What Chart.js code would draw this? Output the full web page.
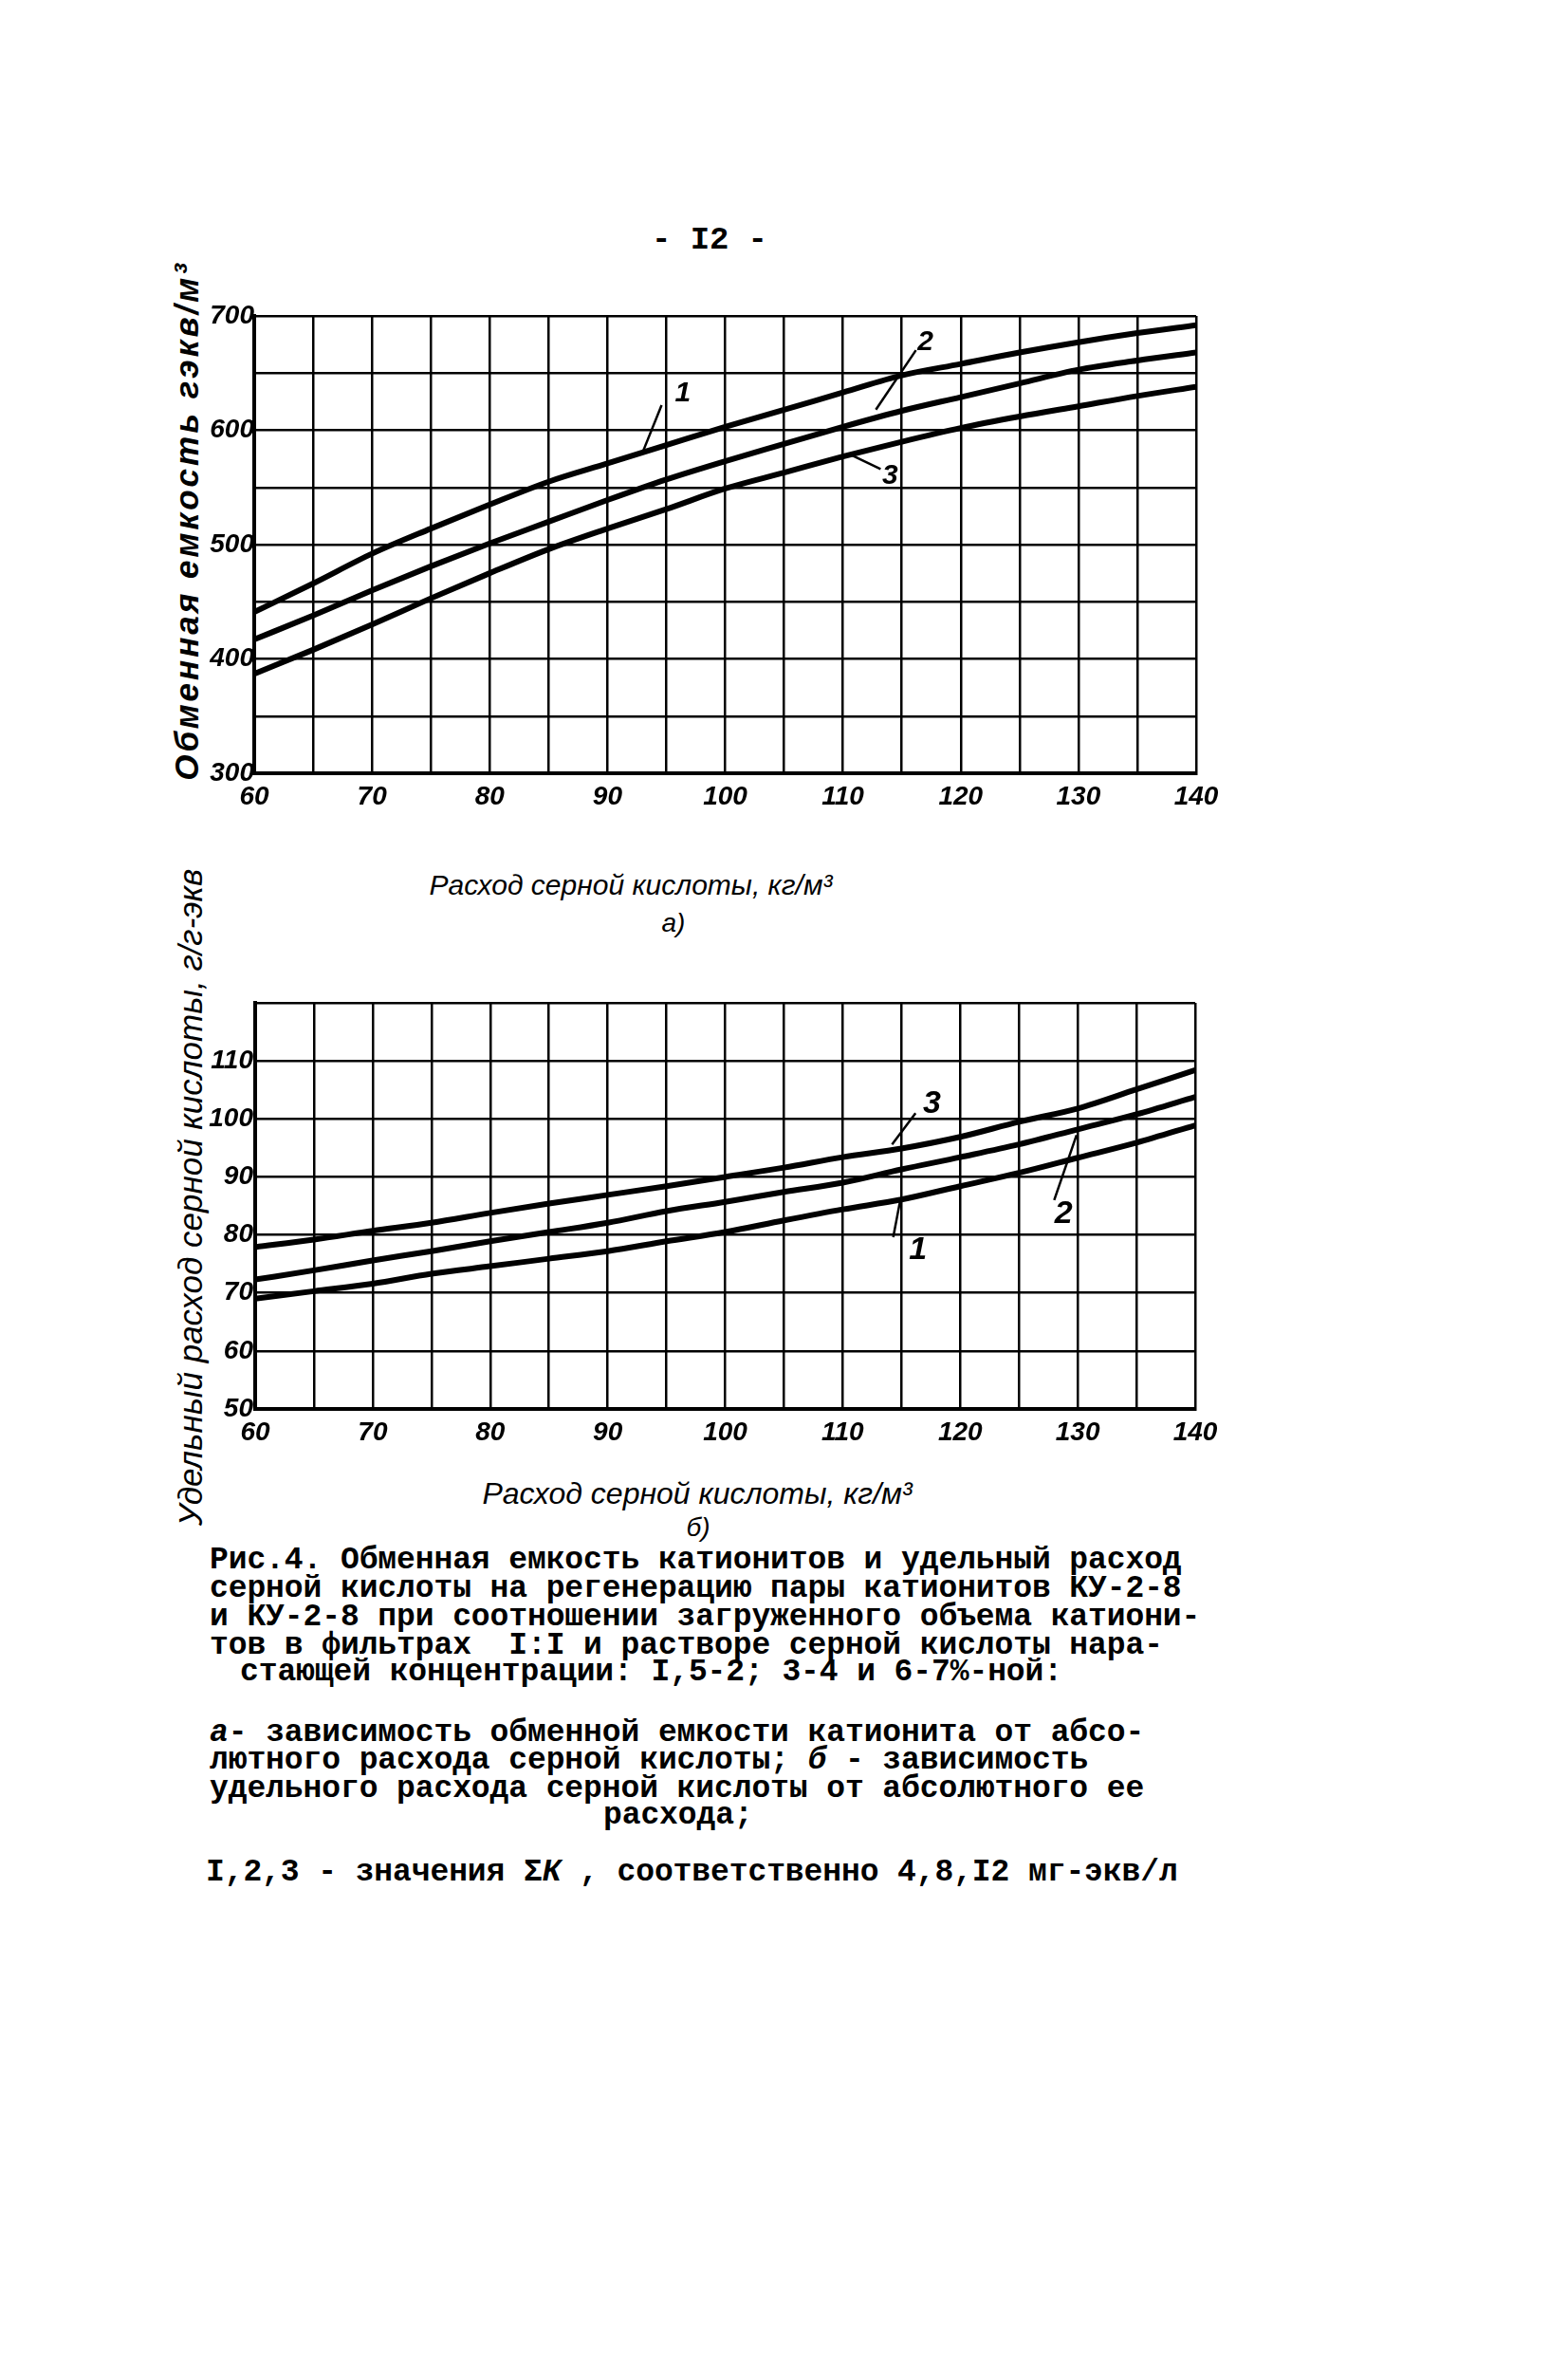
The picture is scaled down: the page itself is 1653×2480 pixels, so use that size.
<!DOCTYPE html>
<html>
<head>
<meta charset="utf-8">
<script src="https://cdn.jsdelivr.net/npm/chart.js@4.4.1/dist/chart.umd.min.js"></script>
<style>
html, body { margin: 0; padding: 0; background: #fff; }
body { width: 1653px; height: 2480px; position: relative; overflow: hidden; color: #000; }
canvas { position: absolute; }
.txt { position: absolute; white-space: pre; }
.mono { font-family: "Liberation Mono", "DejaVu Sans Mono", monospace; font-size: 33px; font-weight: bold; letter-spacing: -0.1px; line-height: 30px; }
.hand { font-family: "Liberation Sans", "DejaVu Sans", sans-serif; font-style: italic; }
.rot { transform: translate(-50%, -50%) rotate(-90deg); }
.ctr { transform: translate(-50%, -50%); }
</style>
</head>
<body>

<div class="txt mono" style="left:0;width:1496px;text-align:center;top:238px;font-size:34px;">- I2 -</div>

<div class="txt hand rot" style="left:197px;top:549px;font-size:35px;font-weight:bold;letter-spacing:3px;">Обменная емкость гэкв/м³</div>
<div class="txt hand ctr" style="left:665px;top:933px;font-size:30px;">Расход серной кислоты, кг/м³</div>
<div class="txt hand ctr" style="left:710px;top:973px;font-size:28px;">а)</div>

<div class="txt hand rot" style="left:201px;top:1262px;font-size:35px;">Удельный расход серной кислоты, г/г-экв</div>
<div class="txt hand ctr" style="left:735px;top:1574px;font-size:32px;">Расход серной кислоты, кг/м³</div>
<div class="txt hand ctr" style="left:736px;top:1610px;font-size:28px;">б)</div>

<canvas id="chartA" width="1200" height="600" style="left:150px;top:280px;"></canvas>
<canvas id="chartB" width="1200" height="560" style="left:150px;top:1000px;"></canvas>

<div class="txt mono" style="left:221px;top:1630px;">Рис.4. Обменная емкость катионитов и удельный расход</div>
<div class="txt mono" style="left:221px;top:1660px;">серной кислоты на регенерацию пары катионитов КУ-2-8</div>
<div class="txt mono" style="left:221px;top:1690px;">и КУ-2-8 при соотношении загруженного объема катиони-</div>
<div class="txt mono" style="left:221px;top:1720px;">тов в фильтрах  I:I и растворе серной кислоты нара-</div>
<div class="txt mono" style="left:253px;top:1748px;">стающей концентрации: I,5-2; 3-4 и 6-7%-ной:</div>
<div class="txt mono" style="left:221px;top:1812px;"><i>а</i>- зависимость обменной емкости катионита от абсо-</div>
<div class="txt mono" style="left:221px;top:1841px;">лютного расхода серной кислоты; <i>б</i> - зависимость</div>
<div class="txt mono" style="left:221px;top:1871px;">удельного расхода серной кислоты от абсолютного ее</div>
<div class="txt mono" style="left:636px;top:1899px;">расхода;</div>
<div class="txt mono" style="left:217px;top:1959px;">I,2,3 - значения Σ<i>К</i> , соответственно 4,8,I2 мг-экв/л</div>

<script>
// acid consumption, kg/m3
var xValues = [60, 65, 70, 75, 80, 85, 90, 95, 100, 105, 110, 115, 120, 125, 130, 135, 140]

// a) exchange capacity, g-eq/m3 (curves 1, 2, 3)
var capacity1 = [441, 466, 492, 514, 535, 555, 571, 587, 603, 618, 633, 648, 658, 668, 677, 685, 692]
var capacity2 = [417, 438, 460, 481, 501, 520, 539, 557, 573, 588, 603, 617, 629, 641, 653, 661, 668]
var capacity3 = [387, 408, 430, 453, 475, 496, 514, 531, 549, 563, 577, 590, 602, 612, 621, 630, 638]

// b) specific acid consumption, g/g-eq (curves 1, 2, 3)
var specific1 = [69.0, 70.3, 71.6, 73.3, 74.6, 75.9, 77.2, 78.9, 80.5, 82.5, 84.4, 86.1, 88.4, 90.7, 93.3, 95.9, 98.9]
var specific2 = [72.3, 73.9, 75.6, 77.2, 78.9, 80.5, 82.1, 84.1, 85.7, 87.4, 89.0, 91.3, 93.4, 95.6, 98.2, 100.8, 103.8]
var specific3 = [77.9, 79.2, 80.7, 82.1, 83.8, 85.4, 86.9, 88.4, 90.0, 91.6, 93.4, 94.9, 96.9, 99.5, 101.8, 105.1, 108.4]

var curveNames = ['1', '2', '3']

function toPoints(values) {
  return xValues.map((x, i) => ({x: x, y: values[i]}))
}

function makeDataset(name, values) {
  return {
    label: name,
    data: toPoints(values),
    borderColor: '#000',
    borderWidth: 6,
    borderCapStyle: 'round',
    pointRadius: 0,
    tension: 0.4,
    cubicInterpolationMode: 'monotone',
    fill: false,
  }
}

// hand-written curve numbers with leader lines, given in data units
var curveLabels = {
  id: 'curveLabels',
  afterDatasetsDraw(chart, args, opts) {
    const ctx = chart.ctx
    const xs = chart.scales.x
    const ys = chart.scales.y
    ctx.save()
    ctx.strokeStyle = '#000'
    ctx.fillStyle = '#000'
    ctx.lineWidth = 2.5
    ctx.font = opts.font
    ctx.textAlign = 'center'
    ctx.textBaseline = 'middle'
    opts.items.forEach((it)=>{
      ctx.beginPath()
      ctx.moveTo(xs.getPixelForValue(it.from[0]), ys.getPixelForValue(it.from[1]))
      ctx.lineTo(xs.getPixelForValue(it.to[0]), ys.getPixelForValue(it.to[1]))
      ctx.stroke()
      ctx.fillText(it.text, xs.getPixelForValue(it.at[0]), ys.getPixelForValue(it.at[1]))
    })
    ctx.restore()
  }
}

var tickFont = {family: "'Liberation Sans', 'DejaVu Sans', sans-serif", style: 'italic', weight: 'bold', size: 28}

function xScale(height) {
  return {
    type: 'linear',
    min: 60,
    max: 140,
    afterFit: (s)=>{ s.height = height },
    border: {display: true, color: '#000', width: 4},
    grid: {color: '#000', lineWidth: 2.5, drawTicks: false},
    ticks: {
      stepSize: 5,
      autoSkip: false,
      maxRotation: 0,
      padding: 8,
      color: '#000',
      font: tickFont,
      callback: (v)=> v % 10 === 0 ? v : '',
    },
  }
}

var chartA = new Chart(document.getElementById('chartA'), {
  type: 'line',
  data: {
    datasets: [
      makeDataset(curveNames[0], capacity1),
      makeDataset(curveNames[1], capacity2),
      makeDataset(curveNames[2], capacity3),
    ],
  },
  plugins: [curveLabels],
  options: {
    responsive: false,
    animation: false,
    devicePixelRatio: 1,
    layout: {padding: {top: 53, right: 89, left: 0, bottom: 0}},
    scales: {
      x: xScale(65),
      y: {
        type: 'linear',
        min: 300,
        max: 700,
        afterFit: (s)=>{ s.width = 118 },
        border: {display: true, color: '#000', width: 4},
        grid: {color: '#000', lineWidth: 2.5, drawTicks: false},
        ticks: {
          stepSize: 50,
          padding: 0,
          color: '#000',
          font: tickFont,
          callback: (v)=> v % 100 === 0 ? v : '',
        },
      },
    },
    plugins: {
      legend: {display: false},
      tooltip: {enabled: false},
      curveLabels: {
        font: "italic bold 30px 'Liberation Sans', sans-serif",
        items: [
          {text: '1', at: [96.4, 632], from: [93.0, 581], to: [94.6, 622]},
          {text: '2', at: [117.0, 677], from: [112.8, 618], to: [116.2, 670]},
          {text: '3', at: [114.0, 560], from: [110.8, 578], to: [113.2, 566]},
        ],
      },
    },
  },
})

var chartB = new Chart(document.getElementById('chartB'), {
  type: 'line',
  data: {
    datasets: [
      makeDataset(curveNames[0], specific1),
      makeDataset(curveNames[1], specific2),
      makeDataset(curveNames[2], specific3),
    ],
  },
  plugins: [curveLabels],
  options: {
    responsive: false,
    animation: false,
    devicePixelRatio: 1,
    layout: {padding: {top: 57, right: 90, left: 0, bottom: 0}},
    scales: {
      x: xScale(75),
      y: {
        type: 'linear',
        min: 50,
        max: 120,
        afterFit: (s)=>{ s.width = 119 },
        border: {display: true, color: '#000', width: 4},
        grid: {color: '#000', lineWidth: 2.5, drawTicks: false},
        ticks: {
          stepSize: 10,
          padding: 2,
          color: '#000',
          font: tickFont,
          callback: (v)=> v === 120 ? '' : v,
        },
      },
    },
    plugins: {
      legend: {display: false},
      tooltip: {enabled: false},
      curveLabels: {
        font: "italic bold 34px 'Liberation Sans', sans-serif",
        items: [
          {text: '3', at: [117.6, 102.6], from: [114.2, 95.6], to: [116.2, 101.0]},
          {text: '2', at: [128.8, 83.6], from: [129.9, 97.2], to: [128.0, 86.0]},
          {text: '1', at: [116.4, 77.4], from: [114.9, 86.0], to: [114.3, 79.6]},
        ],
      },
    },
  },
})
</script>
</body>
</html>
